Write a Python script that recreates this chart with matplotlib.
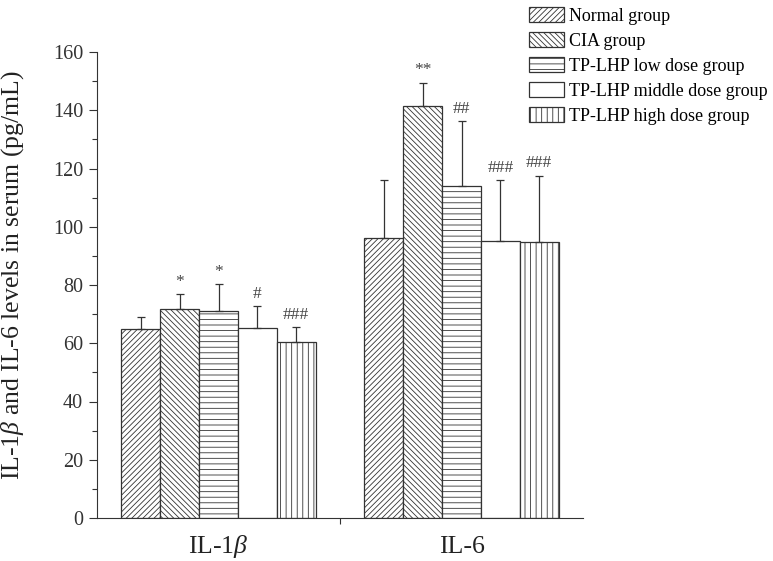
import numpy as np
import matplotlib
matplotlib.use("Agg")
import matplotlib.pyplot as plt

plt.rcParams['font.family'] = ['Liberation Serif', 'DejaVu Serif']
plt.rcParams['mathtext.fontset'] = 'custom'
plt.rcParams['mathtext.rm'] = 'Liberation Serif'
plt.rcParams['mathtext.it'] = 'Liberation Serif:italic'
plt.rcParams['hatch.linewidth'] = 0.6

# data
categories = ["IL-1$\\beta$", "IL-6"]
groups = ["Normal group", "CIA group", "TP-LHP low dose group",
          "TP-LHP middle dose group", "TP-LHP high dose group"]
means = [
    [64.8, 96.0],    # Normal
    [71.9, 141.6],   # CIA
    [71.1, 113.9],   # low
    [65.2, 95.1],    # middle
    [60.4, 94.7],    # high
]
errors = [
    [4.3, 20.0],
    [5.0, 7.9],
    [9.1, 22.4],
    [7.5, 20.9],
    [5.2, 22.8],
]
marks = [
    ["", ""],
    ["*", "**"],
    ["*", "##"],
    ["#", "###"],
    ["###", "###"],
]
hatches = ["//////", "\\\\\\\\\\\\", "---", "", "|||"]

W, H = 773, 561
fig = plt.figure(figsize=(W / 100, H / 100), dpi=100)
ax = fig.add_axes([97 / W, 1 - 518 / H, 486 / W, 466 / H])

width = 0.16
centers = np.array([0.5, 1.5])
for i, g in enumerate(groups):
    x = centers + (i - 2) * width
    ax.bar(x, means[i], width, color="white", edgecolor="#333333",
           linewidth=0.9, hatch=hatches[i], label=g, zorder=2)
    ax.errorbar(x, means[i], yerr=[np.zeros(2), errors[i]], fmt="none",
                ecolor="#333333", elinewidth=0.9, capsize=3, capthick=0.9, zorder=3)
    for j in range(2):
        if marks[i][j]:
            ax.text(x[j], means[i][j] + errors[i][j] + 1.5, marks[i][j],
                    ha="center", va="bottom", fontsize=12.5, color="#444444")

ax.set_xlim(0, 2)
ax.set_ylim(0, 160)
ax.set_yticks(np.arange(0, 161, 20))
ax.set_yticks(np.arange(0, 161, 10), minor=True)
ax.set_xticks([1])
ax.set_xticklabels([""])
for c, lab in zip(centers, categories):
    ax.annotate(lab, xy=(c, 0), xytext=(0, -25.5), textcoords="offset points",
                ha="center", va="baseline", fontsize=18.5, color="#222222")
ax.tick_params(axis="y", labelsize=14.5, direction="out", length=6, width=0.8,
               colors="#333333", pad=4)
ax.tick_params(axis="y", which="minor", length=3.5, width=0.8, colors="#333333")
ax.tick_params(axis="x", length=4, width=0.8, colors="#333333")
ax.spines["top"].set_visible(False)
ax.spines["right"].set_visible(False)
for s in ["left", "bottom"]:
    ax.spines[s].set_linewidth(0.8)
    ax.spines[s].set_color("#333333")
fig.text(13 / W, 1 - 275 / H, "IL-1$\\beta$ and IL-6 levels in serum (pg/mL)",
         rotation=90, ha="center", va="center", fontsize=18.5, color="#222222")

fig.legend(loc="upper left", bbox_to_anchor=(522 / W, 1.0), frameon=False,
           fontsize=13, handlelength=1.9, handleheight=0.9, labelspacing=0.4,
           handletextpad=0.3, borderaxespad=0)

fig.savefig("out.png", dpi=100)
